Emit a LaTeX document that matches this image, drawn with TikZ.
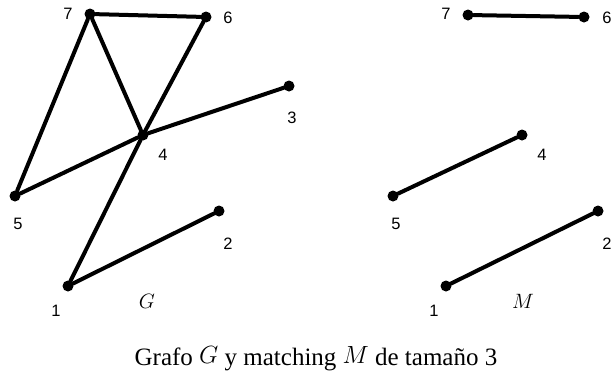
\documentclass[tikz,border=0pt]{standalone}
\usepackage{fontspec}
\setmainfont{Liberation Serif}
\newfontfamily\numfont{Liberation Sans}
\usetikzlibrary{positioning}

\tikzset{
  vtx/.style={circle, fill=black, inner sep=0pt, minimum size=11pt},
  num/.style={font=\numfont\fontsize{16.5}{18}\selectfont, inner sep=0pt},
  edge/.style={line width=4pt, line cap=round},
  gname/.style={font=\fontsize{22}{24}\selectfont, inner sep=0pt}
}
\newcommand{\bigmath}[1]{\raisebox{2pt}{\fontsize{38}{40}\selectfont$#1$}}

\begin{document}
\begin{tikzpicture}[x=1pt, y=-1pt]
      \useasboundingbox (0,0) rectangle (611,376);

      % Graph G
      \node[vtx] (g7) at (90,14) {};
      \node[vtx] (g6) at (206,17) {};
      \node[vtx] (g3) at (289,86) {};
      \node[vtx] (g4) at (143,135) {};
      \node[vtx] (g5) at (15,196) {};
      \node[vtx] (g2) at (219,211) {};
      \node[vtx] (g1) at (68,286) {};
      \foreach \a/\b in {g7/g6, g7/g5, g7/g4, g6/g4, g4/g3, g4/g5, g4/g1, g1/g2} {
        \draw[edge] (\a) -- (\b);
      }
      \node[num] (lg7) at (68,14) {7};
      \node[num] (lg6) at (228,18) {6};
      \node[num] (lg3) at (292,118) {3};
      \node[num] (lg4) at (163,155) {4};
      \node[num] (lg5) at (18,224) {5};
      \node[num] (lg2) at (228,244) {2};
      \node[num] (lg1) at (56,311) {1};
      \node[gname] (nameG) at (147,301) {$G$};

      % Matching M
      \node[vtx] (m7) at (468,15) {};
      \node[vtx] (m6) at (584,17) {};
      \node[vtx] (m4) at (522,135) {};
      \node[vtx] (m5) at (393,196) {};
      \node[vtx] (m2) at (598,211) {};
      \node[vtx] (m1) at (446,286) {};
      \foreach \a/\b in {m7/m6, m5/m4, m1/m2} {
        \draw[edge] (\a) -- (\b);
      }
      \node[num] (lm7) at (446,14) {7};
      \node[num] (lm6) at (607,18) {6};
      \node[num] (lm4) at (542,155) {4};
      \node[num] (lm5) at (396,224) {5};
      \node[num] (lm2) at (607,244) {2};
      \node[num] (lm1) at (434,311) {1};
      \node[gname] (nameM) at (523,301) {$M$};

      % caption
      \node[font=\fontsize{25}{28}\selectfont, inner sep=0pt, anchor=base] (caption) at (316,365)
        {Grafo \bigmath{G} y matching \bigmath{M} de tamaño 3};
\end{tikzpicture}
\end{document}
